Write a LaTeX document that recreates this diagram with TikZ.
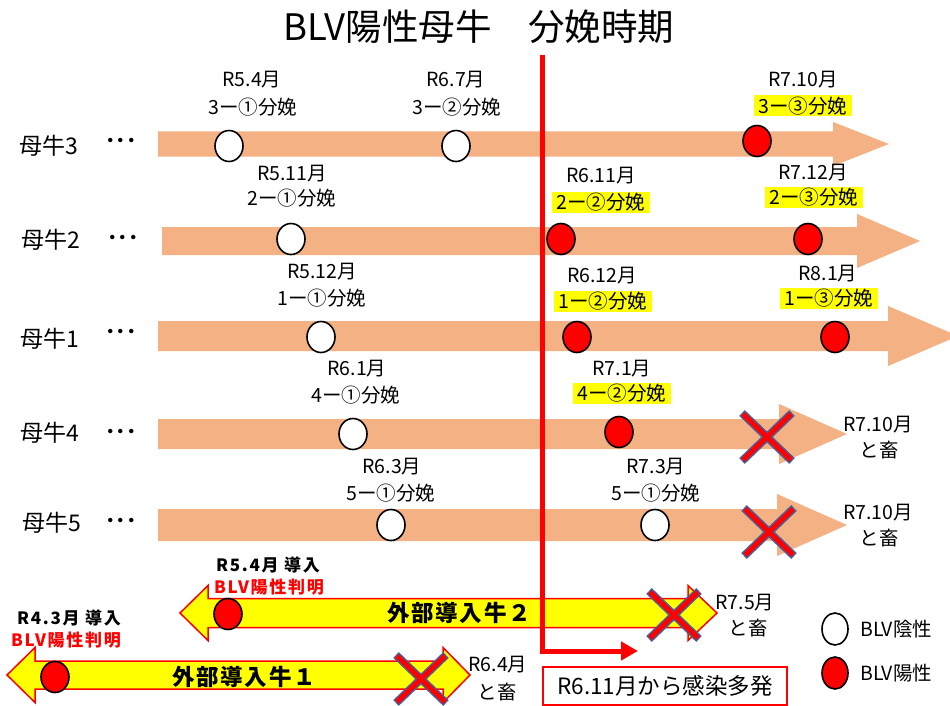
\documentclass[tikz,border=0pt]{standalone}
\usepackage{fontspec}
\setmainfont{Noto Sans CJK JP}
\usetikzlibrary{arrows.meta,shapes.geometric}
\definecolor{orng}{HTML}{F4B183}
\definecolor{rd}{HTML}{FF0000}
\definecolor{yl}{HTML}{FFFF00}
\definecolor{xblue}{HTML}{44619E}
\newcommand\oarrow[6]{\fill[orng] (#1,#4-#5) -- (#2,#4-#5) -- (#2,#4-#6) -- (#3,#4) -- (#2,#4+#6) -- (#2,#4+#5) -- (#1,#4+#5) -- cycle;}
\newcommand\yarrow[7]{\filldraw[fill=yl,draw=rd,line width=1.5pt,line join=miter] (#1,#5) -- (#2,#5-#7) -- (#2,#5-#6) -- (#3,#5-#6) -- (#3,#5-#7) -- (#4,#5) -- (#3,#5+#7) -- (#3,#5+#6) -- (#2,#5+#6) -- (#2,#5+#7) -- cycle;}
\begin{document}
\begin{tikzpicture}[x=1pt,y=-1pt,
  negc/.style={ellipse,draw=black,line width=1.6pt,fill=white,inner sep=0pt,minimum width=28pt,minimum height=31pt},
  posc/.style={negc,fill=rd},
  lbl/.style={inner sep=0pt,font=\fontsize{19.5}{19.5}\selectfont},
  hl/.style={lbl,fill=yl,inner xsep=4.5pt,inner ysep=0pt,minimum height=21pt},
  cow/.style={inner sep=0pt,font=\fontsize{23}{23}\selectfont},
  dotsl/.style={inner sep=0pt,font=\fontsize{21}{21}\selectfont\bfseries},
  blbl/.style={inner sep=0pt,font=\fontsize{17}{17}\selectfont\bfseries\addfontfeatures{LetterSpace=10}},
  ylbl/.style={inner sep=0pt,font=\fontsize{22.5}{22.5}\selectfont\bfseries\addfontfeatures{LetterSpace=8}},
  xmark/.pic={
    \draw[xblue,line width=8pt] (-25,-24) -- (25,24) (-25,24) -- (25,-24);
    \draw[rd,line width=5pt] (-24,-23) -- (24,23) (-24,23) -- (24,-23);
  }]
\useasboundingbox (0,0) rectangle (950,706);
\clip (0,0) rectangle (950,706);
\fill[white] (0,0) rectangle (950,706);

% title
\node[inner sep=0pt,font=\fontsize{36.5}{36.5}\selectfont] (title) at (479,27) {BLV陽性母牛　分娩時期};

% orange timelines
\oarrow{158}{833}{889}{144}{12.5}{22}
\oarrow{162}{857}{920}{241}{14}{27}
\oarrow{158}{888}{958}{336}{15}{30}
\oarrow{158}{779}{847}{434}{15}{30}
\oarrow{158}{777}{847}{525}{16}{31}

% yellow arrows
\yarrow{180}{208}{688}{717}{613}{14.5}{27.5}
\yarrow{7}{35}{443}{470}{675}{14}{27.5}

% red line
\coordinate (ltop) at (542,55);
\coordinate (lcorner) at (542,651);
\coordinate (lend) at (638,651);
\draw[rd,line width=5pt,line join=miter,-{Triangle[length=17pt,width=18pt]}] (ltop) -- (lcorner) -- (lend);

% row labels
\node[cow] (c3) at (49,146) {母牛3};
\node[dotsl] (d3) at (121,143) {･･･};
\node[cow] (c2) at (51,240) {母牛2};
\node[dotsl] (d2) at (123,240) {･･･};
\node[cow] (c1) at (50,339) {母牛1};
\node[dotsl] (d1) at (121,334) {･･･};
\node[cow] (c4) at (50,433) {母牛4};
\node[dotsl] (d4) at (121,434) {･･･};
\node[cow] (c5) at (52,523) {母牛5};
\node[dotsl] (d5) at (121,523) {･･･};

% circles
\node[negc] (e31) at (229,146) {};
\node[negc] (e32) at (456,146) {};
\node[posc] (e33) at (757,141) {};
\node[negc] (e21) at (291,239) {};
\node[posc] (e22) at (561,239) {};
\node[posc] (e23) at (808,239) {};
\node[negc] (e11) at (321,337) {};
\node[posc] (e12) at (577,337) {};
\node[posc] (e13) at (835,337) {};
\node[negc] (e41) at (353,434) {};
\node[posc] (e42) at (619,432) {};
\node[negc] (e51) at (391,525) {};
\node[negc] (e52) at (655,525) {};
\node[posc] (g2) at (228,614) {};
\node[posc] (g1) at (55,677) {};

% crosses
\pic at (767,437) {xmark};
\pic at (769,532) {xmark};
\pic at (674,615) {xmark};
\pic at (421,679) {xmark};

% event labels
\node[lbl] (t31a) at (252,80) {R5.4月};
\node[lbl] (t31b) at (253,107) {3ー①分娩};
\node[lbl] (t32a) at (456,80) {R6.7月};
\node[lbl] (t32b) at (457,107) {3ー②分娩};
\node[lbl] (t33a) at (803,80) {R7.10月};
\node[hl]  (t33b) at (803,106) {3ー③分娩};
\node[lbl] (t21a) at (292,174) {R5.11月};
\node[lbl] (t21b) at (292,198) {2ー①分娩};
\node[lbl] (t22a) at (601,176) {R6.11月};
\node[hl]  (t22b) at (601,202) {2ー②分娩};
\node[lbl] (t23a) at (813,173) {R7.12月};
\node[hl]  (t23b) at (814,197) {2ー③分娩};
\node[lbl] (t11a) at (322,272) {R5.12月};
\node[lbl] (t11b) at (322,298) {1ー①分娩};
\node[lbl] (t12a) at (602,276) {R6.12月};
\node[hl]  (t12b) at (603,301) {1ー②分娩};
\node[lbl] (t13a) at (828,274) {R8.1月};
\node[hl]  (t13b) at (829,298) {1ー③分娩};
\node[lbl] (t41a) at (357,369) {R6.1月};
\node[lbl] (t41b) at (356,395) {4ー①分娩};
\node[lbl] (t42a) at (622,369) {R7.1月};
\node[hl]  (t42b) at (622,393) {4ー②分娩};
\node[lbl] (t51a) at (392,467) {R6.3月};
\node[lbl] (t51b) at (391,493) {5ー①分娩};
\node[lbl] (t52a) at (656,467) {R7.3月};
\node[lbl] (t52b) at (656,493) {5ー①分娩};

% slaughter labels
\node[lbl] (s4a) at (878,425) {R7.10月};
\node[lbl] (s4b) at (879,450) {と畜};
\node[lbl] (s5a) at (878,513) {R7.10月};
\node[lbl] (s5b) at (879,538) {と畜};
\node[lbl] (sg2a) at (745,603) {R7.5月};
\node[lbl] (sg2b) at (748,628) {と畜};
\node[lbl] (sg1a) at (498,665) {R6.4月};
\node[lbl] (sg1b) at (497,692) {と畜};

% introduced cows
\node[blbl] (i2a) at (268,565) {R5.4月 導入};
\node[blbl,text=rd] (i2b) at (269,587) {BLV陽性判明};
\node[blbl] (i1a) at (69,618) {R4.3月 導入};
\node[blbl,text=rd] (i1b) at (66,640) {BLV陽性判明};
\node[ylbl] (y2) at (459,613) {外部導入牛２};
\node[ylbl] (y1) at (244,677) {外部導入牛１};

% note box
\node[draw=rd,line width=1.5pt,minimum width=244pt,minimum height=38pt,inner sep=0pt,font=\fontsize{22.5}{22.5}\selectfont] (note) at (665,686) {R6.11月から感染多発};

% legend
\node[negc,minimum width=26pt,minimum height=32pt] (lgn) at (835,629) {};
\node[posc,minimum width=26pt,minimum height=32pt] (lgp) at (835,673) {};
\node[lbl,anchor=west] (lgnt) at (860,629) {BLV陰性};
\node[lbl,anchor=west] (lgpt) at (860,673) {BLV陽性};
\end{tikzpicture}
\end{document}
